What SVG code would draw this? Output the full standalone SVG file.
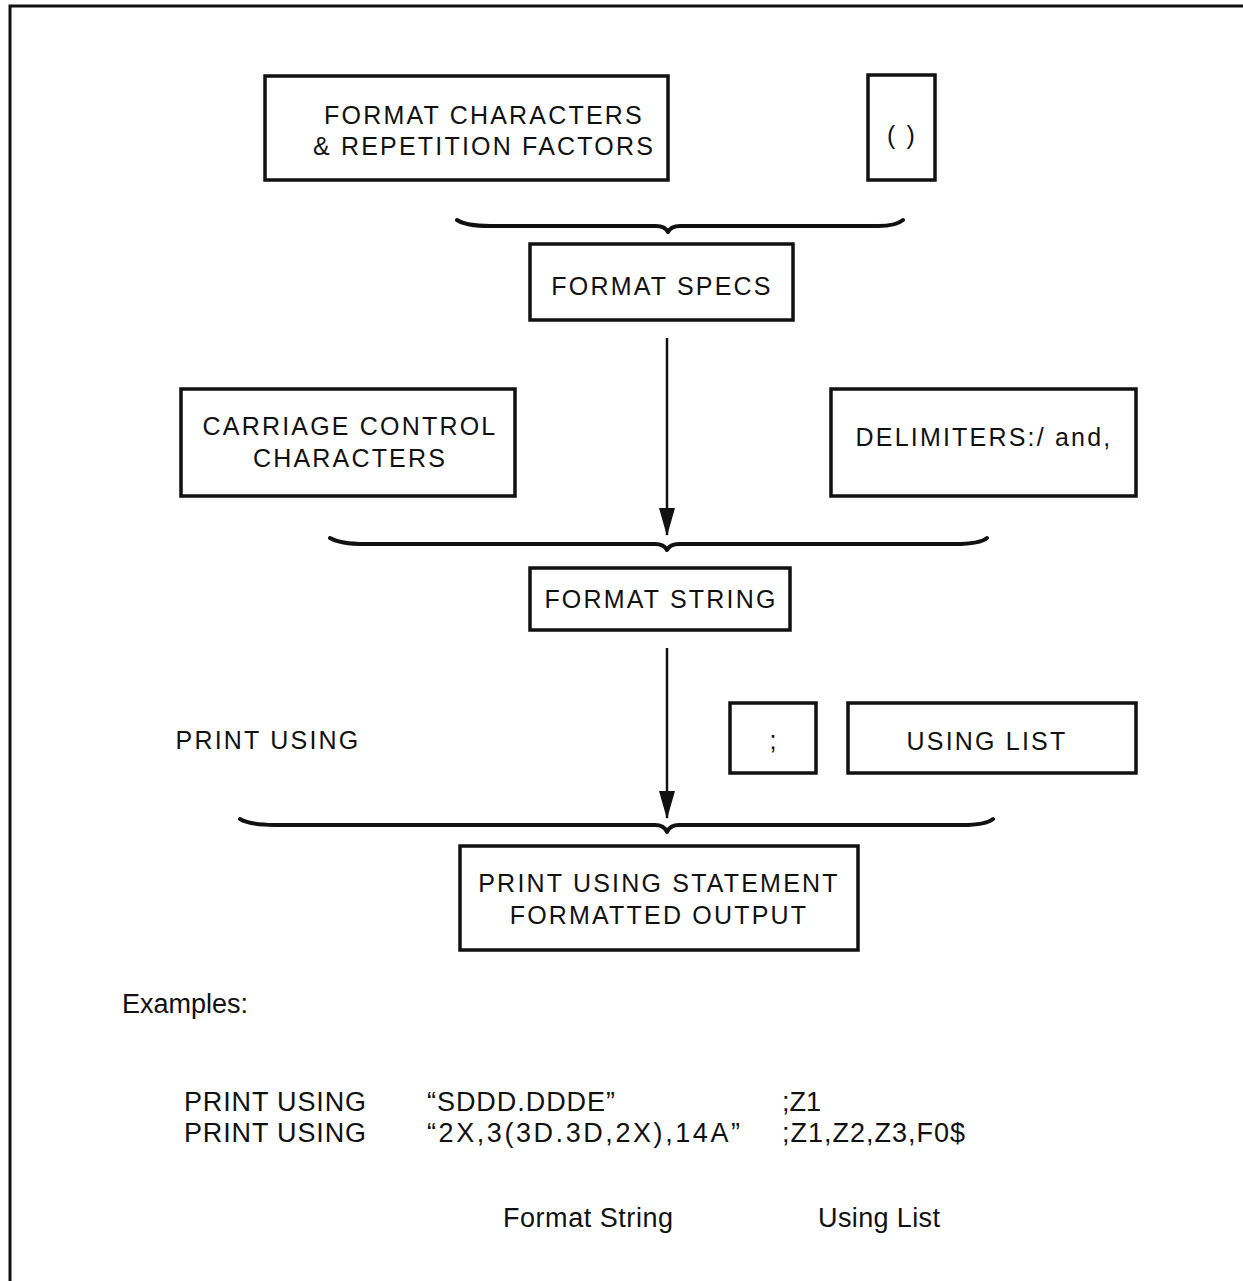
<svg xmlns="http://www.w3.org/2000/svg" width="1243" height="1281" viewBox="0 0 1243 1281">
<style>
.box{fill:#fff;stroke:#111;stroke-width:3.5}
.t{font-family:"Liberation Sans",Arial,sans-serif;font-size:25px;letter-spacing:2.2px;fill:#111;text-anchor:middle}
.e{font-family:"Liberation Sans",Arial,sans-serif;font-size:27px;fill:#111}
.br{fill:none;stroke:#111;stroke-width:4;stroke-linecap:round;stroke-linejoin:round}
.ln{stroke:#111;stroke-width:2.5;fill:none}
</style>
<defs>
<marker id="ah" markerUnits="userSpaceOnUse" markerWidth="28" markerHeight="16" refX="27" refY="8" orient="auto" viewBox="0 0 28 16">
<path d="M0,0 L28,8 L0,16 Z" fill="#111"/>
</marker>
</defs>
<rect width="1243" height="1281" fill="#fff"/>
<path d="M10,1281 L10,6 L1243,6" fill="none" stroke="#111" stroke-width="3"/>

<g id="n-format-chars"><rect class="box" x="265" y="76" width="403" height="104"/>
<text class="t" x="484" y="124">FORMAT CHARACTERS</text>
<text class="t" x="484" y="155">&amp; REPETITION FACTORS</text></g>

<g id="n-parens"><rect class="box" x="868" y="75" width="67" height="105"/>
<text class="t" x="902" y="144">( )</text></g>

<g id="n-format-specs"><rect class="box" x="530" y="244" width="263" height="76"/>
<text class="t" x="662" y="295">FORMAT SPECS</text></g>

<g id="n-carriage"><rect class="box" x="181" y="389" width="334" height="107"/>
<text class="t" x="350" y="435">CARRIAGE CONTROL</text>
<text class="t" x="350" y="467">CHARACTERS</text></g>

<g id="n-delimiters"><rect class="box" x="831" y="389" width="305" height="107"/>
<text class="t" x="984" y="446">DELIMITERS:/ and,</text></g>

<g id="n-format-string"><rect class="box" x="530" y="568" width="260" height="62"/>
<text class="t" x="661" y="608">FORMAT STRING</text></g>

<g id="n-print-using"><text class="t" x="268" y="749">PRINT USING</text></g>

<g id="n-semicolon"><rect class="box" x="730" y="703" width="86" height="70"/>
<text class="t" x="774" y="749">;</text></g>

<g id="n-using-list"><rect class="box" x="848" y="703" width="288" height="70"/>
<text class="t" x="987" y="750">USING LIST</text></g>

<g id="n-statement"><rect class="box" x="460" y="846" width="398" height="104"/>
<text class="t" x="659" y="892">PRINT USING STATEMENT</text>
<text class="t" x="659" y="924">FORMATTED OUTPUT</text></g>

<g id="connectors">
<path class="br" d="M457,220 Q466,226 490,226 L656,226 Q665,226 668,232 Q671,226 680,226 L878,226 Q896,226 903,220"/>
<line class="ln" x1="667" y1="338" x2="667" y2="535" marker-end="url(#ah)"/>
<path class="br" d="M330,538 Q340,544 365,544 L655,544 Q664,544 667,550 Q670,544 679,544 L955,544 Q980,544 987,538"/>
<line class="ln" x1="667" y1="648" x2="667" y2="818" marker-end="url(#ah)"/>
<path class="br" d="M240,819 Q250,825 275,825 L655,825 Q664,825 667,832 Q670,825 679,825 L962,825 Q986,825 993,819"/>
</g>

<g id="examples">
<text class="e" x="122" y="1013" textLength="126" lengthAdjust="spacing">Examples:</text>
<text class="e" x="184" y="1111" textLength="182" lengthAdjust="spacing">PRINT USING</text>
<text class="e" x="427" y="1111" textLength="188" lengthAdjust="spacing">“SDDD.DDDE”</text>
<text class="e" x="782" y="1111">;Z1</text>
<text class="e" x="184" y="1142" textLength="182" lengthAdjust="spacing">PRINT USING</text>
<text class="e" x="427" y="1142" textLength="313" lengthAdjust="spacing">“2X,3(3D.3D,2X),14A”</text>
<text class="e" x="782" y="1142" textLength="183" lengthAdjust="spacing">;Z1,Z2,Z3,F0$</text>
<text class="e" x="503" y="1227" textLength="170" lengthAdjust="spacing">Format String</text>
<text class="e" x="818" y="1227" textLength="122" lengthAdjust="spacing">Using List</text>
</g>
</svg>
